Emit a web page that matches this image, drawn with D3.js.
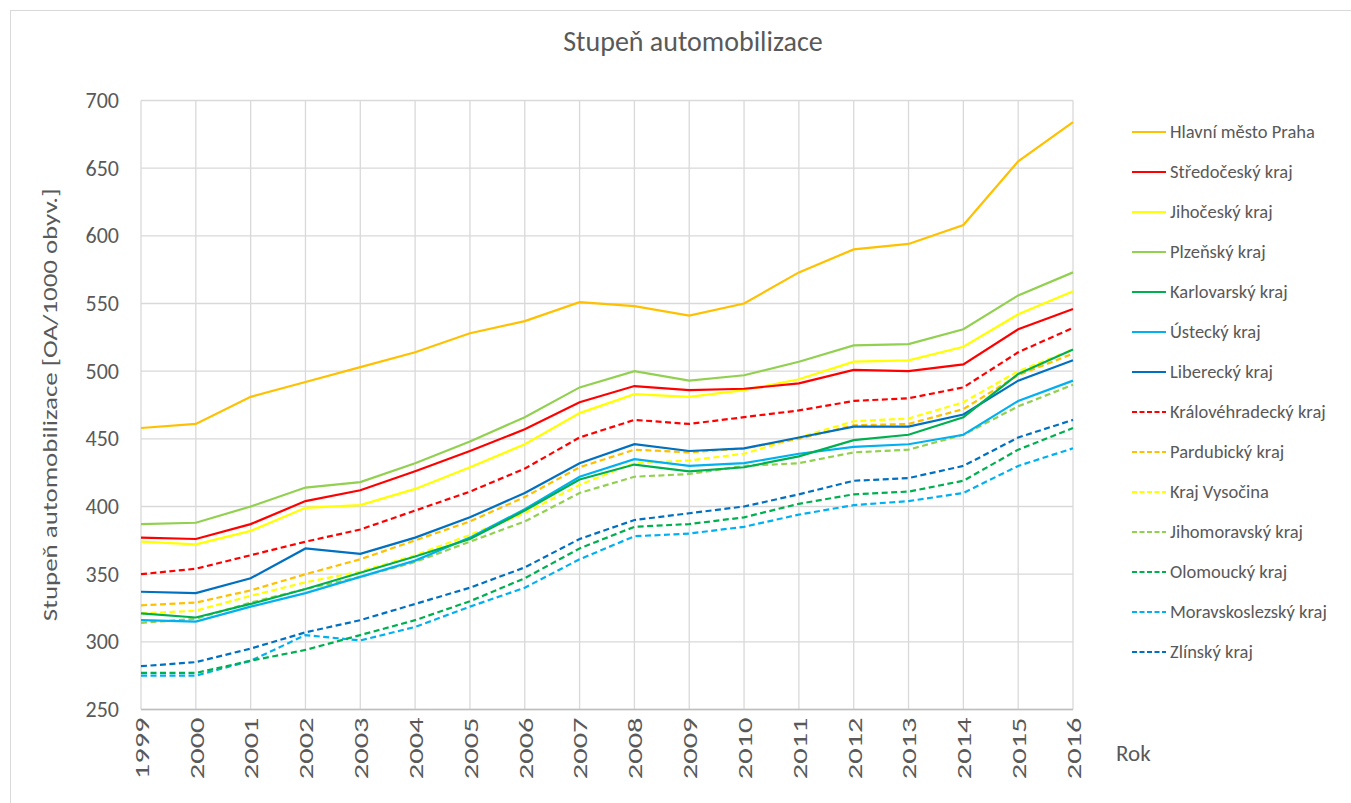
<!DOCTYPE html>
<html>
<head>
<meta charset="utf-8">
<script src="https://cdn.jsdelivr.net/npm/d3@7"></script>
<style>
  body { margin: 0; background: #fff; }
  text { font-family: Calibri, Carlito, Lato, sans-serif; fill: #595959; }
</style>
</head>
<body>
<div id="chart"></div>
<script>
const years = [1999, 2000, 2001, 2002, 2003, 2004, 2005, 2006, 2007, 2008, 2009, 2010, 2011, 2012, 2013, 2014, 2015, 2016];
const yTicks = [250, 300, 350, 400, 450, 500, 550, 600, 650, 700];

const praha        = [458, 461, 481, 492, 503, 514, 528, 537, 551, 548, 541, 550, 573, 590, 594, 608, 655, 684];
const stredocesky  = [377, 376, 387, 404, 412, 426, 441, 457, 477, 489, 486, 487, 491, 501, 500, 505, 531, 546];
const jihocesky    = [374, 372, 382, 399, 401, 413, 429, 446, 469, 483, 481, 486, 494, 507, 508, 518, 542, 559];
const plzensky     = [387, 388, 400, 414, 418, 432, 448, 466, 488, 500, 493, 497, 507, 519, 520, 531, 556, 573];
const karlovarsky  = [321, 318, 328, 339, 351, 363, 376, 397, 420, 431, 426, 429, 437, 449, 453, 466, 498, 516];
const ustecky      = [316, 315, 326, 336, 348, 360, 377, 398, 422, 435, 430, 432, 439, 444, 446, 453, 478, 493];
const liberecky    = [337, 336, 347, 369, 365, 377, 392, 410, 432, 446, 441, 443, 451, 459, 459, 468, 493, 508];
const kralovehrad  = [350, 354, 364, 374, 383, 397, 411, 428, 451, 464, 461, 466, 471, 478, 480, 488, 514, 532];
const pardubicky   = [327, 329, 338, 350, 361, 375, 389, 407, 429, 442, 440, 443, 450, 460, 461, 472, 497, 513];
const vysocina     = [321, 323, 334, 344, 352, 364, 379, 395, 416, 432, 434, 439, 451, 463, 465, 477, 500, 516];
const jihomoravsky = [314, 317, 329, 339, 348, 359, 374, 389, 410, 422, 424, 430, 432, 440, 442, 453, 474, 490];
const olomoucky    = [277, 277, 286, 294, 305, 316, 330, 347, 369, 385, 387, 392, 402, 409, 411, 419, 442, 458];
const moravskoslez = [275, 275, 286, 305, 301, 311, 326, 340, 361, 378, 380, 385, 394, 401, 404, 410, 430, 443];
const zlinsky      = [282, 285, 295, 307, 316, 328, 340, 355, 376, 390, 395, 400, 409, 419, 421, 430, 451, 464];

const series = [
  {name: "Hlavní město Praha", values: praha, color: "#ffc000", dash: false},
  {name: "Středočeský kraj", values: stredocesky, color: "#ff0000", dash: false},
  {name: "Jihočeský kraj", values: jihocesky, color: "#ffff00", dash: false},
  {name: "Plzeňský kraj", values: plzensky, color: "#92d050", dash: false},
  {name: "Karlovarský kraj", values: karlovarsky, color: "#00b050", dash: false},
  {name: "Ústecký kraj", values: ustecky, color: "#00b0f0", dash: false},
  {name: "Liberecký kraj", values: liberecky, color: "#0070c0", dash: false},
  {name: "Královéhradecký kraj", values: kralovehrad, color: "#ff0000", dash: true},
  {name: "Pardubický kraj", values: pardubicky, color: "#ffc000", dash: true},
  {name: "Kraj Vysočina", values: vysocina, color: "#ffff00", dash: true},
  {name: "Jihomoravský kraj", values: jihomoravsky, color: "#92d050", dash: true},
  {name: "Olomoucký kraj", values: olomoucky, color: "#00b050", dash: true},
  {name: "Moravskoslezský kraj", values: moravskoslez, color: "#00b0f0", dash: true},
  {name: "Zlínský kraj", values: zlinsky, color: "#0070c0", dash: true}
];

const W = 1351, H = 803;
const margin = {top: 100.5, left: 141, right: 278, bottom: 93.5};
const width = W - margin.left - margin.right,
      height = H - margin.top - margin.bottom;

const svg = d3.select("#chart").append("svg")
  .attr("width", W).attr("height", H);

// outer chart border
svg.append("rect")
  .attr("x", 10.5).attr("y", 10.5)
  .attr("width", W).attr("height", H)
  .attr("fill", "none").attr("stroke", "#d9d9d9");

// title
svg.append("text")
  .attr("x", 693).attr("y", 51)
  .attr("text-anchor", "middle")
  .style("font-size", "28px")
  .text("Stupeň automobilizace");

const g = svg.append("g")
  .attr("transform", "translate(" + margin.left + "," + margin.top + ")");

const x = d3.scalePoint().domain(years).range([0, width]);
const y = d3.scaleLinear().domain([250, 700]).range([height, 0]);

// gridlines
g.append("g")
  .selectAll("line.h")
  .data(yTicks)
  .enter().append("line")
  .attr("x1", 0).attr("x2", width)
  .attr("y1", d => y(d)).attr("y2", d => y(d))
  .attr("stroke", "#d9d9d9").attr("stroke-width", 1.3);
g.append("g")
  .selectAll("line.v")
  .data(years)
  .enter().append("line")
  .attr("x1", d => x(d)).attr("x2", d => x(d))
  .attr("y1", 0).attr("y2", height)
  .attr("stroke", "#d9d9d9").attr("stroke-width", 1.3);

// bottom axis line
g.append("line")
  .attr("x1", 0).attr("x2", width)
  .attr("y1", height).attr("y2", height)
  .attr("stroke", "#bfbfbf").attr("stroke-width", 1.5);

// y axis labels
const yAxis = d3.axisLeft(y).tickValues(yTicks).tickSize(0).tickPadding(22);
g.append("g").call(yAxis)
  .call(a => a.select(".domain").remove())
  .selectAll("text")
  .style("font-size", "22px")
  .style("fill", "#595959");

// x axis labels (rotated, wide digits)
const xAxis = d3.axisBottom(x).tickSize(0).tickPadding(0);
g.append("g")
  .attr("transform", "translate(0," + height + ")")
  .call(xAxis)
  .call(a => a.select(".domain").remove())
  .selectAll("text")
  .style("font-size", "21px")
  .style("fill", "#595959")
  .attr("text-anchor", "end")
  .attr("transform", "rotate(-90) scale(1.45,1)")
  .attr("x", -5.5)
  .attr("y", 0)
  .attr("dy", "0.35em");

// axis titles
svg.append("text")
  .attr("transform", "translate(57,405) rotate(-90) scale(1.28,1)")
  .attr("text-anchor", "middle")
  .style("font-size", "21px")
  .text("Stupeň automobilizace [OA/1000 obyv.]");

svg.append("text")
  .attr("x", 1116).attr("y", 761)
  .style("font-size", "23px")
  .text("Rok");

// lines
const line = d3.line()
  .x((d, i) => x(years[i]))
  .y(d => y(d));

g.append("g")
  .selectAll("path")
  .data(series.slice().reverse())
  .enter().append("path")
  .attr("d", s => line(s.values))
  .attr("fill", "none")
  .attr("stroke", s => s.color)
  .attr("stroke-width", 2.2)
  .attr("stroke-dasharray", s => s.dash ? "6,3.5" : null);

// legend
const legend = svg.append("g").attr("transform", "translate(1132,132)");
const item = legend.selectAll("g")
  .data(series)
  .enter().append("g")
  .attr("transform", (d, i) => "translate(0," + (i * 40) + ")");
item.append("line")
  .attr("x1", 0).attr("x2", 34)
  .attr("y1", 0).attr("y2", 0)
  .attr("stroke", d => d.color)
  .attr("stroke-width", 2)
  .attr("stroke-dasharray", d => d.dash ? "5,2.5" : null);
item.append("text")
  .attr("x", 38).attr("y", 0)
  .attr("dy", "0.35em")
  .style("font-size", "18.5px")
  .text(d => d.name);
</script>
</body>
</html>
